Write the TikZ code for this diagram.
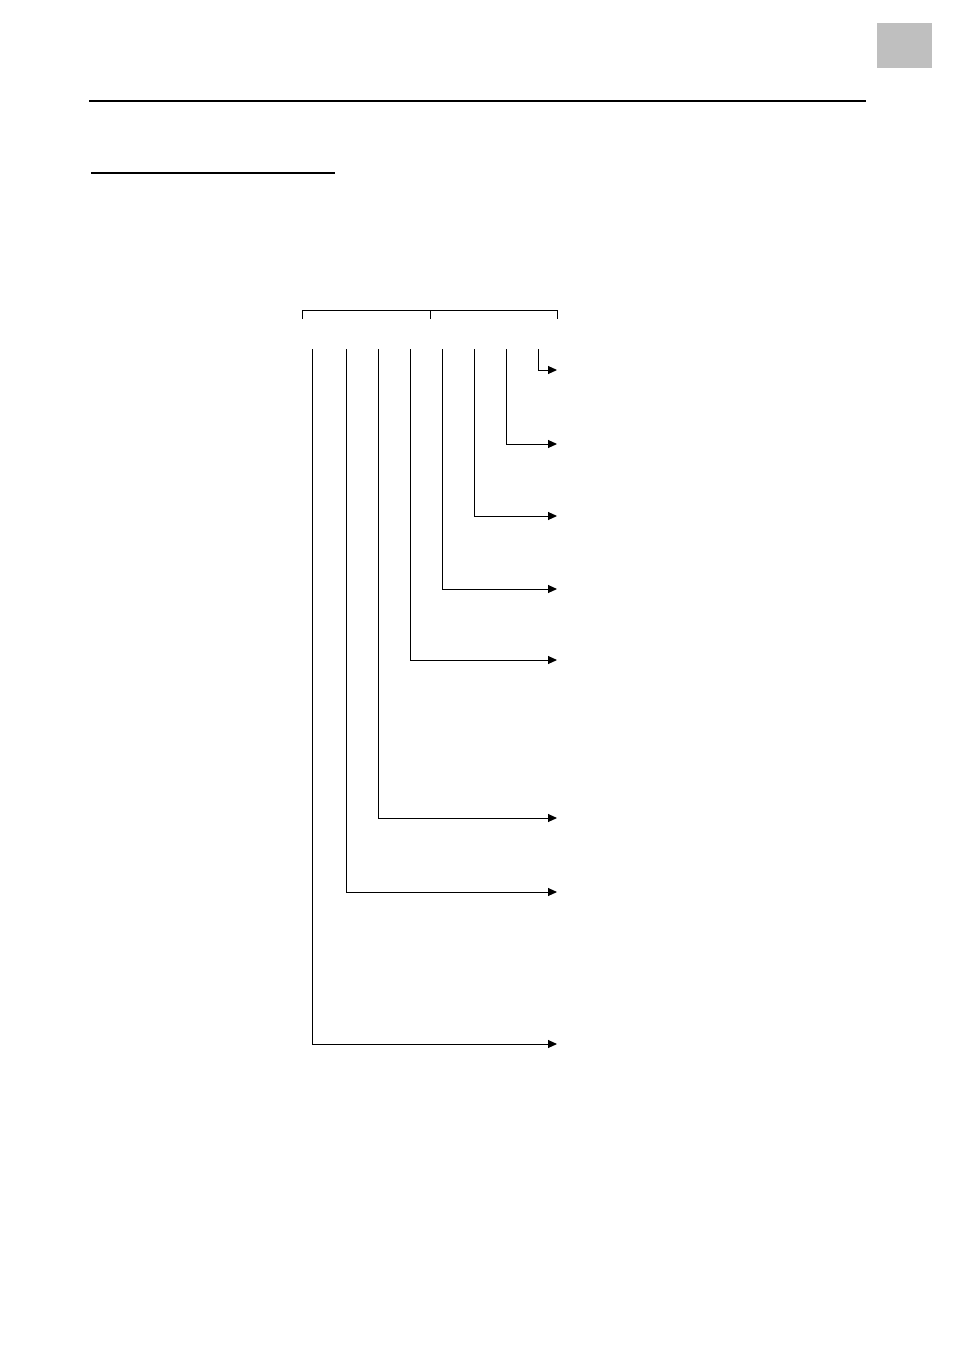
\documentclass[tikz,border=0pt]{standalone}
\usepackage{tikz}
\usetikzlibrary{arrows.meta}

\begin{document}
\begin{tikzpicture}[x=1pt,y=-1pt]
\tikzset{rule/.style={line width=1.2pt},conn/.style={line width=1pt,-{Triangle[length=9pt,width=8pt]}},brk/.style={line width=1pt}}
\useasboundingbox (0,0) rectangle (954,1351);
\fill[fill=black!25] (877,23) rectangle (932,68);
\coordinate (r1) at (89,101);
\coordinate (r2) at (866,101);
\coordinate (u1) at (91,173);
\coordinate (u2) at (335,173);
\draw[rule] (r1) -- (r2);
\draw[rule] (u1) -- (u2);
\coordinate (b1) at (302,319);
\coordinate (b2) at (430,319);
\coordinate (b3) at (557,319);
\draw[brk] (b1) -- ++(0,-9) -| (b3);
\draw[brk] (b2) -- ++(0,-9);
\coordinate (1) at (312,349);
\coordinate (2) at (346,349);
\coordinate (3) at (378,349);
\coordinate (4) at (410,349);
\coordinate (5) at (442,349);
\coordinate (6) at (474,349);
\coordinate (7) at (506,349);
\coordinate (8) at (538,349);
\coordinate (e1) at (557,1044);
\coordinate (e2) at (557,892);
\coordinate (e3) at (557,818);
\coordinate (e4) at (557,660);
\coordinate (e5) at (557,589);
\coordinate (e6) at (557,516);
\coordinate (e7) at (557,444);
\coordinate (e8) at (557,370);
\draw[conn] (1) |- (e1);
\draw[conn] (2) |- (e2);
\draw[conn] (3) |- (e3);
\draw[conn] (4) |- (e4);
\draw[conn] (5) |- (e5);
\draw[conn] (6) |- (e6);
\draw[conn] (7) |- (e7);
\draw[conn] (8) |- (e8);
\end{tikzpicture}
\end{document}
